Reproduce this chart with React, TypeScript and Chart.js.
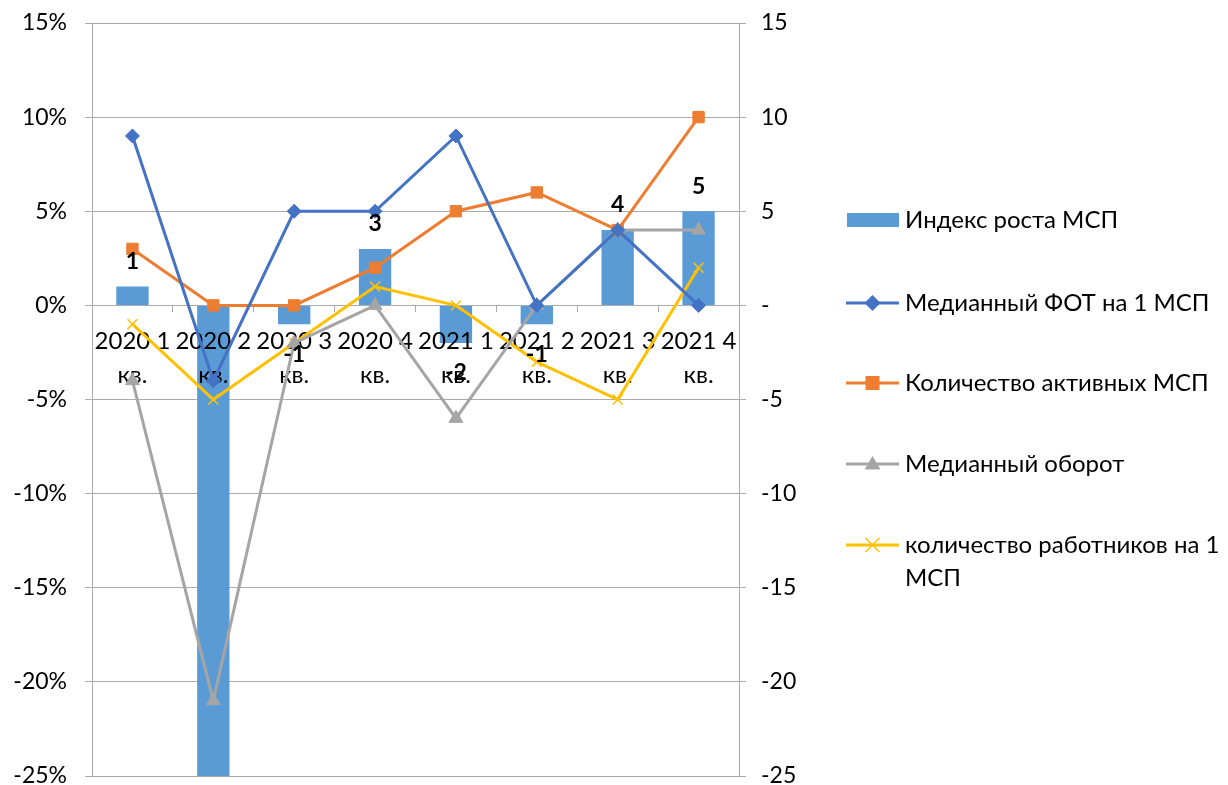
import React, { useEffect, useRef } from "react";
import { Chart, registerables } from "chart.js";

Chart.register(...registerables);

const categories: string[][] = [
  ["2020 1", "кв."],
  ["2020 2", "кв."],
  ["2020 3", "кв."],
  ["2020 4", "кв."],
  ["2021 1", "кв."],
  ["2021 2", "кв."],
  ["2021 3", "кв."],
  ["2021 4", "кв."],
];
const growthIndex = [1, -25, -1, 3, -2, -1, 4, 5];
const medianPayroll = [9, -4, 5, 5, 9, 0, 4, 0];
const activeSmes = [3, 0, 0, 2, 5, 6, 4, 10];
const medianTurnover = [-4, -21, -2, 0, -6, 0, 4, 4];
const employeesPerSme = [-1, -5, -2, 1, 0, -3, -5, 2];
const seriesNames = [
  "Индекс роста МСП",
  "Медианный ФОТ на 1 МСП",
  "Количество активных МСП",
  "Медианный оборот",
  "количество работников на 1 МСП",
];
const axisMin = -25;
const axisMax = 15;
const axisStep = 5;

const FONT = "Lato, 'Open Sans', sans-serif";
const GRID = "#ABABAB";

function drawMarker(ctx: CanvasRenderingContext2D, style: string, x: number, y: number, color: string) {
  ctx.save();
  ctx.fillStyle = color;
  ctx.strokeStyle = color;
  ctx.beginPath();
  if (style === "rectRot") {
    const r = 8;
    ctx.moveTo(x, y - r);
    ctx.lineTo(x + r, y);
    ctx.lineTo(x, y + r);
    ctx.lineTo(x - r, y);
    ctx.closePath();
    ctx.fill();
  } else if (style === "rect") {
    const s = 7;
    ctx.rect(x - s, y - s, 2 * s, 2 * s);
    ctx.fill();
  } else if (style === "triangle") {
    const r = 8;
    ctx.moveTo(x, y - r);
    ctx.lineTo(x + r, y + r * 0.7);
    ctx.lineTo(x - r, y + r * 0.7);
    ctx.closePath();
    ctx.fill();
  } else if (style === "crossRot") {
    const r = 7;
    ctx.lineWidth = 1.5;
    ctx.moveTo(x - r, y - r);
    ctx.lineTo(x + r, y + r);
    ctx.moveTo(x + r, y - r);
    ctx.lineTo(x - r, y + r);
    ctx.stroke();
  }
  ctx.restore();
}

// category labels are drawn right after the bars, so they sit above bars but under lines
const labelsOverBarsPlugin = {
  id: "labelsOverBars",
  afterLayout(chart: any) {
    const sc = chart.scales.x;
    if (sc && !sc._origDrawLabels) {
      sc._origDrawLabels = sc.drawLabels;
      sc.drawLabels = () => {};
    }
  },
  afterDatasetDraw(chart: any, args: any) {
    if (args.index !== 0) return;
    const sc = chart.scales.x;
    if (sc && sc._origDrawLabels) {
      chart.ctx.save();
      sc._origDrawLabels.call(sc, chart.chartArea);
      chart.ctx.restore();
    }
  },
};

const barLabelPlugin = {
  id: "barLabels",
  afterDatasetsDraw(chart: any) {
    const ctx = chart.ctx;
    const meta = chart.getDatasetMeta(0);
    const area = chart.chartArea;
    ctx.save();
    ctx.font = `bold 23px ${FONT}`;
    ctx.fillStyle = "#000";
    ctx.textAlign = "center";
    ctx.textBaseline = "middle";
    meta.data.forEach((el: any, i: number) => {
      const v = growthIndex[i];
      const { x, y } = el.getProps(["x", "y"], true);
      const ly = v >= 0 ? y - 25 : y + 30;
      if (ly < area.top || ly > area.bottom) return;
      ctx.fillText(String(v), x, ly);
    });
    ctx.restore();
  },
};

const legendPlugin = {
  id: "customLegend",
  afterDraw(chart: any) {
    const ctx = chart.ctx;
    const x0 = 846;
    const x1 = 899;
    const tx = 905;
    const ys = [220, 303, 383, 464, 545];
    ctx.save();
    ctx.font = `24px ${FONT}`;
    ctx.textBaseline = "middle";
    ctx.textAlign = "left";
    chart.data.datasets.forEach((ds: any, i: number) => {
      const y = ys[i];
      if (ds.type === "bar") {
        ctx.fillStyle = ds.backgroundColor;
        ctx.fillRect(x0 + 1, y - 7, x1 - x0 - 1, 14);
      } else {
        ctx.strokeStyle = ds.borderColor;
        ctx.lineWidth = 3;
        ctx.beginPath();
        ctx.moveTo(x0, y);
        ctx.lineTo(x1, y);
        ctx.stroke();
        drawMarker(ctx, ds.pointStyle, (x0 + x1) / 2, y, ds.borderColor);
      }
      ctx.fillStyle = "#000";
      const words = ds.label.split(" ");
      const maxW = 1228 - tx;
      const lines: string[] = [];
      let cur = "";
      words.forEach((w: string) => {
        const t = cur ? cur + " " + w : w;
        if (ctx.measureText(t).width > maxW && cur) {
          lines.push(cur);
          cur = w;
        } else cur = t;
      });
      if (cur) lines.push(cur);
      lines.forEach((l, k) => ctx.fillText(l, tx, y + k * 33));
    });
    ctx.restore();
  },
};

export default function App() {
  const ref = useRef<HTMLCanvasElement | null>(null);
  useEffect(() => {
    if (!ref.current) return;
    const lineDs = (label: string, data: number[], color: string, style: string, radius: number) => ({
      type: "line" as const,
      label,
      data,
      yAxisID: "y2",
      borderColor: color,
      backgroundColor: color,
      borderWidth: 3,
      pointStyle: style,
      pointRadius: radius,
      pointBorderColor: color,
      pointBackgroundColor: color,
      pointBorderWidth: style === "crossRot" ? 1.5 : 1,
      tension: 0,
      order: 0,
    });
    const zeroPad = (s: any) => {
      s.paddingTop = 0;
      s.paddingBottom = 0;
    };
    const chart = new Chart(ref.current, {
      data: {
        labels: categories,
        datasets: [
          {
            type: "bar",
            label: seriesNames[0],
            data: growthIndex,
            yAxisID: "y",
            backgroundColor: "#5B9BD5",
            barPercentage: 0.4,
            categoryPercentage: 1,
            order: 1,
          } as any,
          lineDs(seriesNames[1], medianPayroll, "#4472C4", "rectRot", 7),
          lineDs(seriesNames[2], activeSmes, "#ED7D31", "rect", 8),
          lineDs(seriesNames[3], medianTurnover, "#A5A5A5", "triangle", 8),
          lineDs(seriesNames[4], employeesPerSme, "#FFC000", "crossRot", 7),
        ],
      },
      options: {
        animation: false,
        responsive: true,
        maintainAspectRatio: false,
        layout: { padding: { left: 0, right: 429, top: 23, bottom: 9 } },
        plugins: { legend: { display: false }, tooltip: { enabled: false } },
        scales: {
          x: {
            position: { y: 0 } as any,
            offset: true,
            afterFit: (s: any) => {
              s.height = 0;
              s.paddingTop = 0;
              s.paddingBottom = 0;
              s.paddingLeft = 0;
              s.paddingRight = 0;
            },
            grid: {
              offset: true,
              drawOnChartArea: false,
              drawTicks: true,
              tickLength: 6,
              color: GRID,
            },
            border: { display: true, color: GRID },
            ticks: {
              color: "#000",
              font: { family: FONT, size: 24, lineHeight: 1.45 },
              padding: 12,
              maxRotation: 0,
              autoSkip: false,
            },
          },
          y: {
            position: "left",
            min: axisMin,
            max: axisMax,
            afterFit: (s: any) => {
              s.width = 92;
              zeroPad(s);
            },
            ticks: {
              stepSize: axisStep,
              color: "#000",
              font: { family: FONT, size: 23 },
              padding: 18,
              callback: (v: any) => `${v}%`,
            },
            grid: { color: GRID, tickLength: 7, drawTicks: true },
            border: { display: true, color: GRID },
          },
          y2: {
            position: "right",
            min: axisMin,
            max: axisMax,
            afterFit: (s: any) => {
              s.width = 60;
              zeroPad(s);
            },
            ticks: {
              stepSize: axisStep,
              color: "#000",
              font: { family: FONT, size: 23 },
              padding: 15,
              callback: (v: any) => (v === 0 ? "-" : String(v)),
            },
            grid: { drawOnChartArea: false, color: GRID, tickLength: 7, drawTicks: true },
            border: { display: true, color: GRID },
          },
        },
      },
      plugins: [labelsOverBarsPlugin, barLabelPlugin, legendPlugin],
    } as any);
    return () => chart.destroy();
  }, []);
  return (
    <div style={{ position: "absolute", left: 0, top: 0, width: 1228, height: 785, background: "#fff" }}>
      <canvas ref={ref} />
    </div>
  );
}
